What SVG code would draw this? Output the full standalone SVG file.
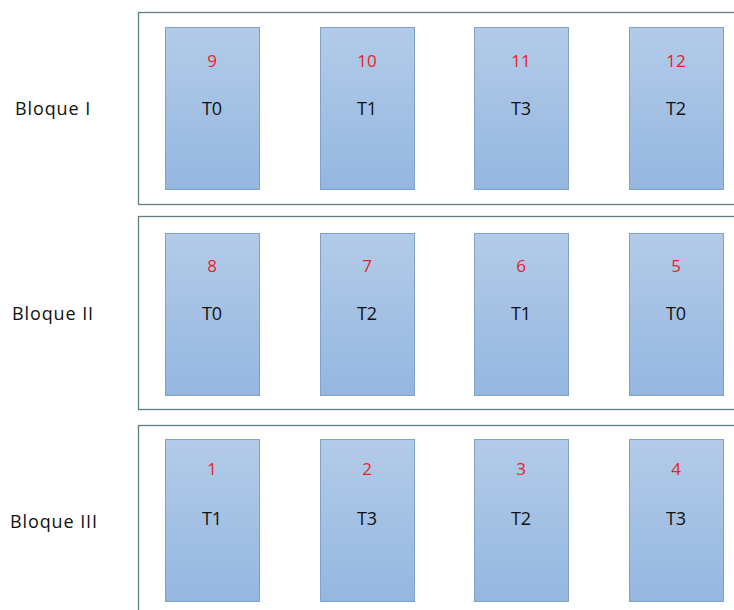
<svg xmlns="http://www.w3.org/2000/svg" width="734" height="610" viewBox="0 0 734 610">
<style>
.blk{fill:#fff;stroke:#5f7f80;stroke-width:1.3}
.card{fill:url(#g);stroke:#7fa3c8;stroke-width:1}
.num{font-family:"Open Sans","Liberation Sans",sans-serif;font-size:17px;fill:#e8202a;text-anchor:middle}
.lab{font-family:"Open Sans","Liberation Sans",sans-serif;font-size:18px;fill:#111;text-anchor:middle}
.side{font-family:"Open Sans","Liberation Sans",sans-serif;font-size:18px;fill:#111;letter-spacing:0.9px}
</style>
<defs>
<linearGradient id="g" x1="0" y1="0" x2="0" y2="1">
<stop offset="0" stop-color="#b3cbe8"/>
<stop offset="1" stop-color="#94b7e0"/>
</linearGradient>
</defs>
<rect width="734" height="610" fill="#fff"/>
<g id="bloque1">
<rect class="blk" x="138.5" y="12.5" width="620" height="192"/>
<text class="side" x="15" y="115">Bloque I</text>
</g>
<g id="bloque2">
<rect class="blk" x="138.5" y="216.5" width="620" height="193"/>
<text class="side" x="12" y="320">Bloque II</text>
</g>
<g id="bloque3">
<rect class="blk" x="138.5" y="425.5" width="620" height="193"/>
<text class="side" x="10" y="528">Bloque III</text>
</g>
<g id="c9"><rect class="card" x="165.5" y="27.5" width="94" height="162"/><text class="num" x="212" y="67">9</text><text class="lab" x="212" y="115">T0</text></g>
<g id="c10"><rect class="card" x="320.5" y="27.5" width="94" height="162"/><text class="num" x="367" y="67">10</text><text class="lab" x="367" y="115">T1</text></g>
<g id="c11"><rect class="card" x="474.5" y="27.5" width="94" height="162"/><text class="num" x="521" y="67">11</text><text class="lab" x="521" y="115">T3</text></g>
<g id="c12"><rect class="card" x="629.5" y="27.5" width="94" height="162"/><text class="num" x="676" y="67">12</text><text class="lab" x="676" y="115">T2</text></g>
<g id="c8"><rect class="card" x="165.5" y="233.5" width="94" height="162"/><text class="num" x="212" y="272">8</text><text class="lab" x="212" y="320">T0</text></g>
<g id="c7"><rect class="card" x="320.5" y="233.5" width="94" height="162"/><text class="num" x="367" y="272">7</text><text class="lab" x="367" y="320">T2</text></g>
<g id="c6"><rect class="card" x="474.5" y="233.5" width="94" height="162"/><text class="num" x="521" y="272">6</text><text class="lab" x="521" y="320">T1</text></g>
<g id="c5"><rect class="card" x="629.5" y="233.5" width="94" height="162"/><text class="num" x="676" y="272">5</text><text class="lab" x="676" y="320">T0</text></g>
<g id="c1"><rect class="card" x="165.5" y="439.5" width="94" height="162"/><text class="num" x="212" y="475">1</text><text class="lab" x="212" y="525">T1</text></g>
<g id="c2"><rect class="card" x="320.5" y="439.5" width="94" height="162"/><text class="num" x="367" y="475">2</text><text class="lab" x="367" y="525">T3</text></g>
<g id="c3"><rect class="card" x="474.5" y="439.5" width="94" height="162"/><text class="num" x="521" y="475">3</text><text class="lab" x="521" y="525">T2</text></g>
<g id="c4"><rect class="card" x="629.5" y="439.5" width="94" height="162"/><text class="num" x="676" y="475">4</text><text class="lab" x="676" y="525">T3</text></g>
<g id="connectors"/>
</svg>
